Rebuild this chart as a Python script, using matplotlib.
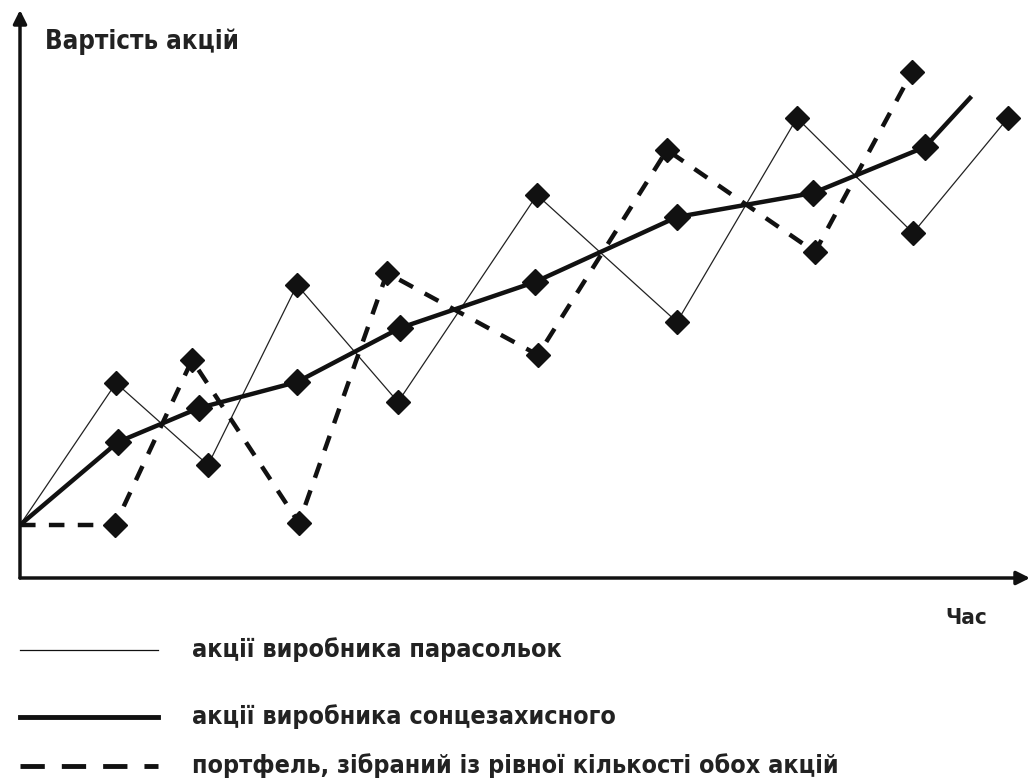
import matplotlib
matplotlib.use("Agg")
import matplotlib.pyplot as plt
from matplotlib.lines import Line2D

# time (arbitrary units) and share value (arbitrary units)
umbrella_t = [0, 0.96, 1.88, 2.77, 3.78, 5.17, 6.57, 7.77, 8.93, 9.88]
umbrella_v = [5.3, 19.5, 11.3, 29.3, 17.6, 38.3, 25.6, 46.0, 34.5, 46.0]

sunscreen_t = [0, 0.98, 1.79, 2.77, 3.80, 5.15, 6.57, 7.93, 9.05, 9.50]
sunscreen_v = [5.3, 13.6, 17.0, 19.6, 25.0, 29.6, 36.1, 38.5, 43.1, 48.0]

portfolio_t = [0, 0.95, 1.72, 2.79, 3.67, 5.18, 6.47, 7.95, 8.92]
portfolio_v = [5.3, 5.3, 21.8, 5.5, 30.5, 22.3, 42.8, 32.6, 50.6]

labels = ["акції виробника парасольок",
          "акції виробника сонцезахисного",
          "портфель, зібраний із рівної кількості обох акцій"]

W, H = 1032, 778
fig = plt.figure(figsize=(W / 100, H / 100), dpi=100)
fig.patch.set_facecolor("white")

# axes box: y axis at x=20px, x axis at y=578px
x0, y0, x1, y1 = 20, 578, 1030, 10
ax = fig.add_axes([x0 / W, (H - y0) / H, (x1 - x0) / W, (y0 - y1) / H])
ax.set_xlim(0, (x1 - x0) / 100)
ax.set_ylim(0, (y0 - y1) / 10)
ax.axis("off")

# arrows for the axes
ax.annotate("", xy=(1, 0), xytext=(0, 0), xycoords="axes fraction",
            arrowprops=dict(arrowstyle="-|>", lw=2.5, color="#111111",
                            mutation_scale=20, shrinkA=0, shrinkB=0))
ax.annotate("", xy=(0, 1), xytext=(0, 0), xycoords="axes fraction",
            arrowprops=dict(arrowstyle="-|>", lw=2.5, color="#111111",
                            mutation_scale=20, shrinkA=0, shrinkB=0))

k = "#111111"
ax.plot(umbrella_t, umbrella_v, color="#222222", lw=0.9, zorder=3)
ax.plot(umbrella_t[1:], umbrella_v[1:], ls="none", marker="D", ms=12, color=k, zorder=4)

ax.plot(sunscreen_t, sunscreen_v, color=k, lw=3.2, zorder=3)
ax.plot(sunscreen_t[1:-1], sunscreen_v[1:-1], ls="none", marker="D", ms=13, color=k, zorder=4)

ax.plot(portfolio_t, portfolio_v, color=k, lw=3.2, dashes=(3.5, 3), zorder=3)
ax.plot(portfolio_t[1:], portfolio_v[1:], ls="none", marker="D", ms=12, color=k, zorder=4)

font = dict(family="DejaVu Sans", stretch="condensed", weight="semibold", color="#222222")

fig.text(45 / W, 1 - 42 / H, "Вартість акцій", fontsize=18.5, va="center", ha="left", **font)
fig.text(945 / W, 1 - 618 / H, "Час", fontsize=16, va="center", ha="left", **font)

# legend drawn by hand below the axes
ys = [650, 717, 766]
styles = [dict(lw=0.9), dict(lw=3.5), dict(lw=3.5, dashes=(5, 3.5))]
for y, lab, st in zip(ys, labels, styles):
    fig.add_artist(Line2D([20 / W, 158 / W], [1 - y / H, 1 - y / H], color=k, **st))
    fig.text(192 / W, 1 - y / H, lab, fontsize=18, va="center", ha="left", **font)

fig.savefig("out.png", dpi=100)
